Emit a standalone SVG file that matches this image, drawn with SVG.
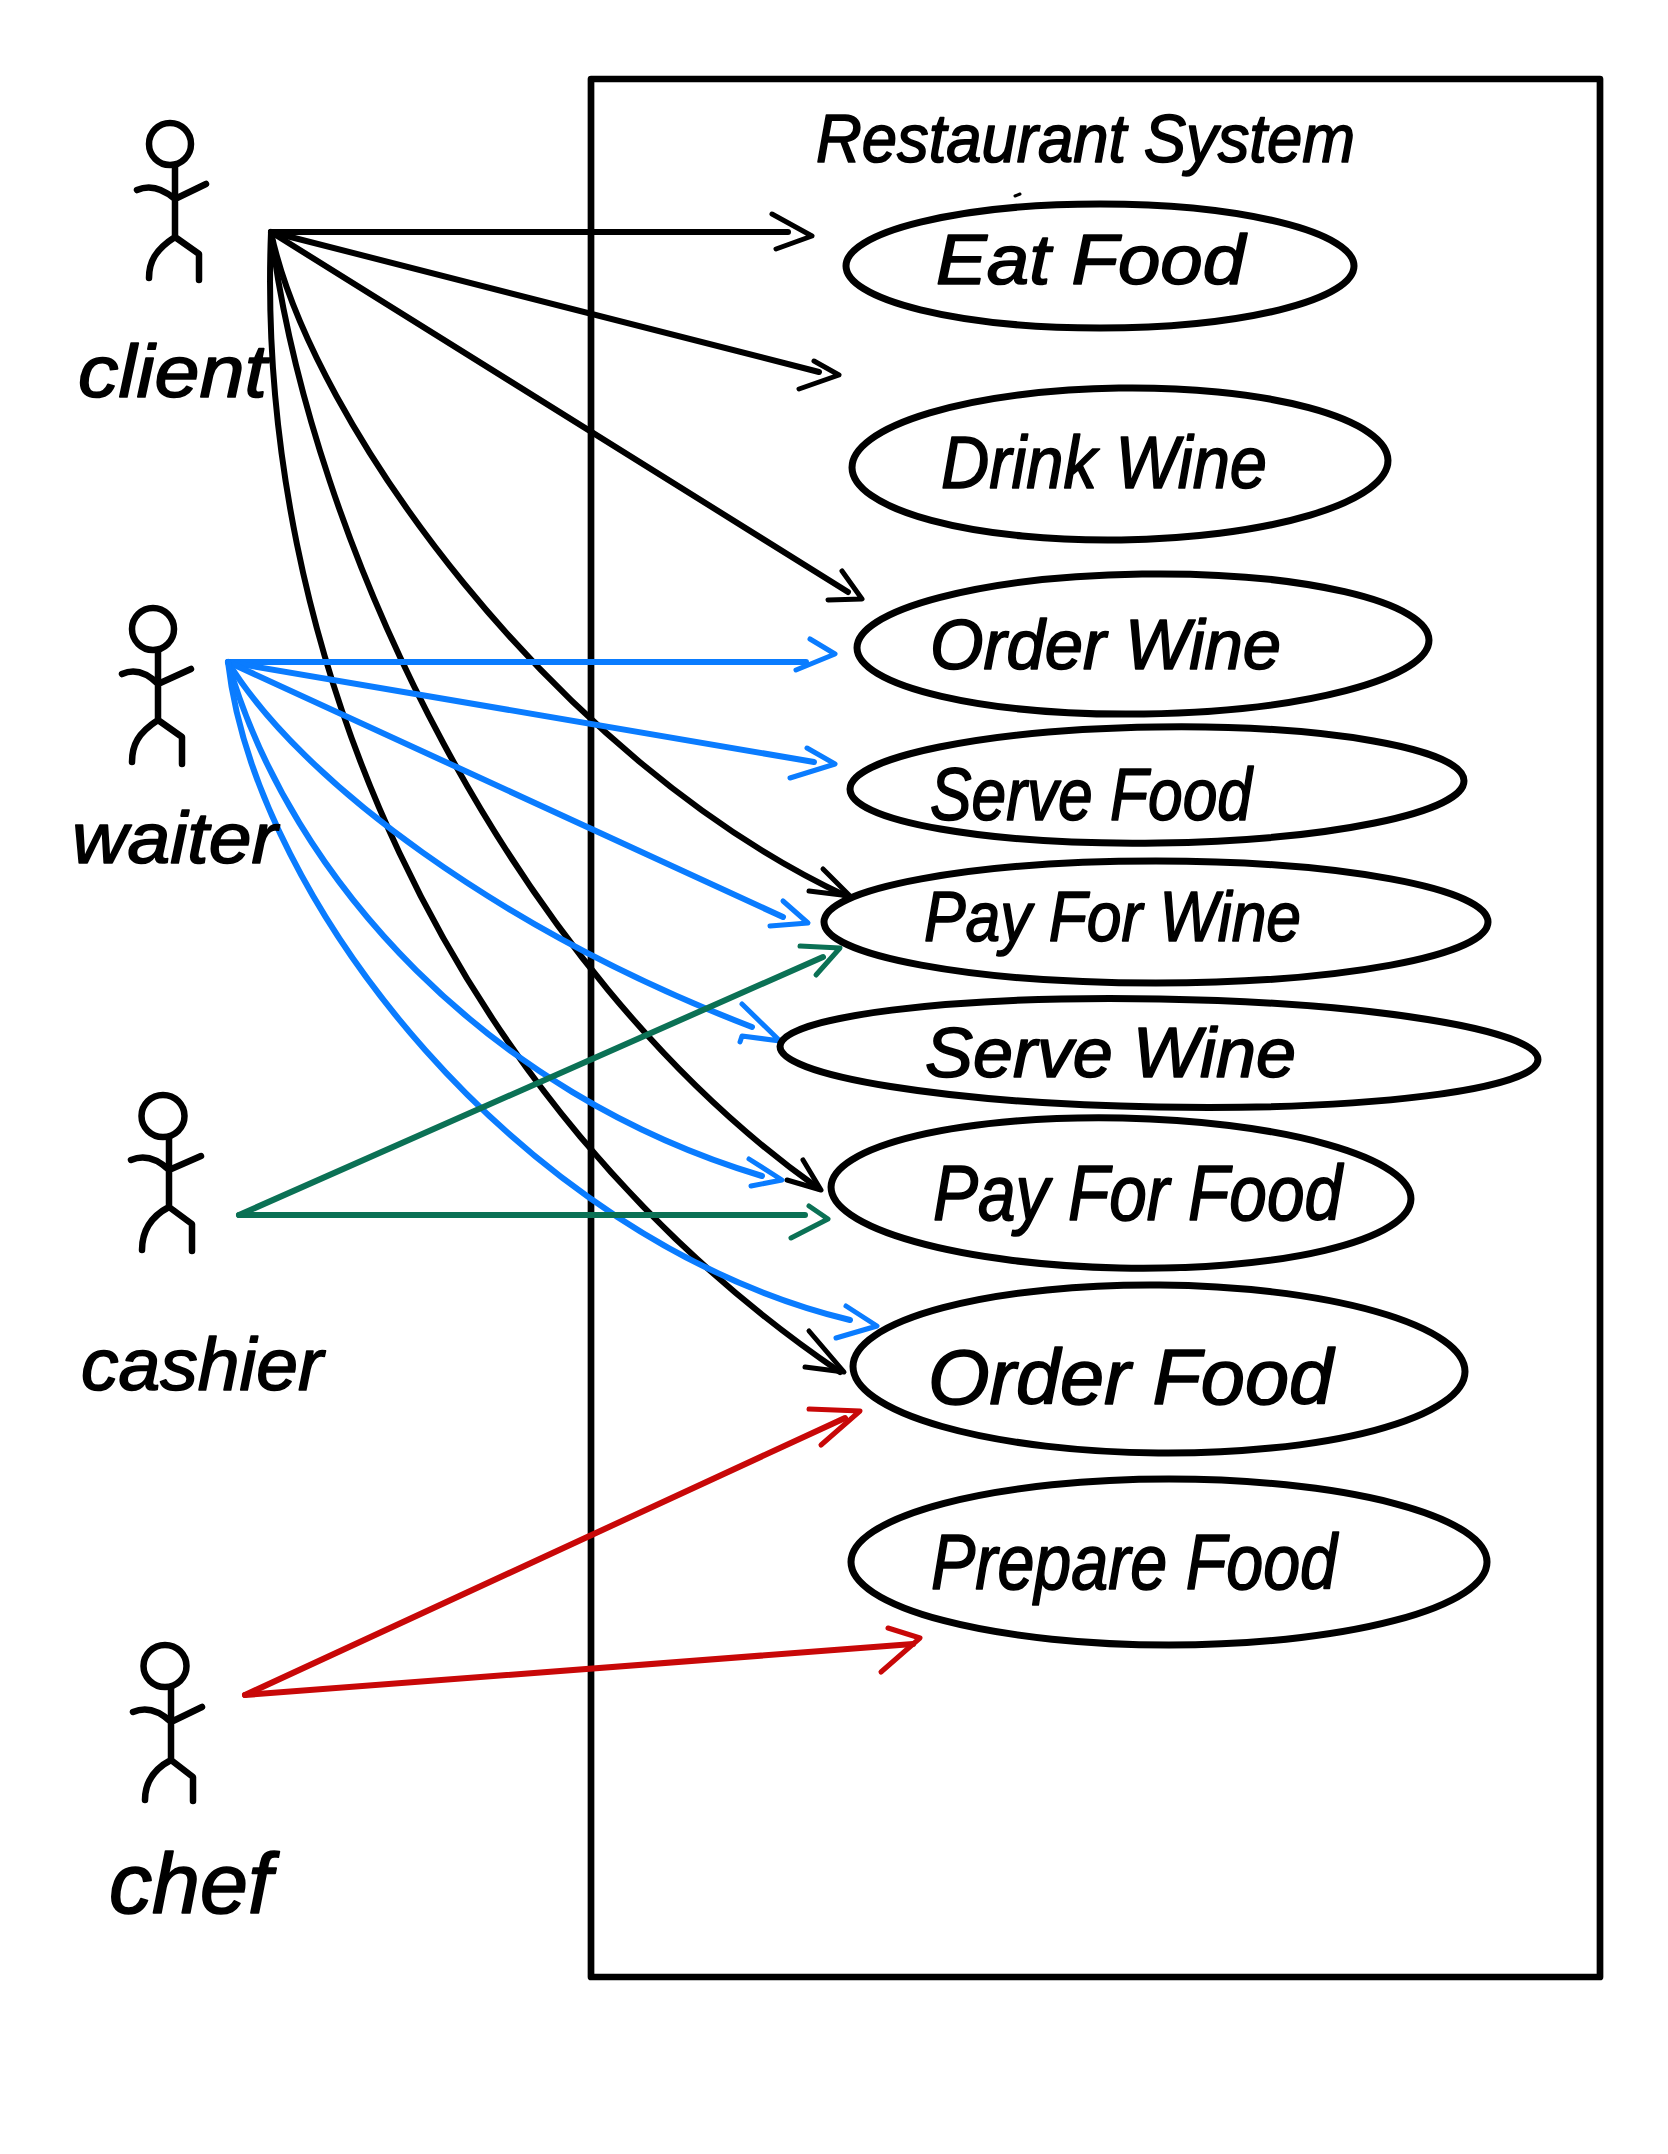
<svg xmlns="http://www.w3.org/2000/svg" width="1668" height="2154" viewBox="0 0 1668 2154">
<style>
.bg{fill:#fff}
.box{fill:none;stroke:#000;stroke-width:6.7;stroke-linejoin:round}
.uc{fill:none;stroke:#000;stroke-width:7}
.act{fill:none;stroke:#000;stroke-width:6.5;stroke-linecap:round;stroke-linejoin:round}
.tick{fill:none;stroke:#000;stroke-width:3;stroke-linecap:round}
.t{font-family:"Liberation Sans",Arial,sans-serif;font-style:italic;fill:#000;stroke:#000;stroke-width:1.6;stroke-linejoin:round}
.c{fill:none;stroke-linecap:round;stroke-linejoin:round;stroke-width:6}
.h{stroke-width:5}
.k{stroke:#000}.b{stroke:#0a7cff}.g{stroke:#0b7155}.r{stroke:#c80808}
</style>
<rect class="bg" width="1668" height="2154"/>
<g id="system">
<rect class="box" x="591" y="79" width="1009" height="1898"/>
<text class="t" x="816" y="162" font-size="68" textLength="539" lengthAdjust="spacingAndGlyphs">Restaurant System</text>
<path class="tick" d="M1015 196L1020 194"/>
</g>
<g id="connectors">
<g id="client-links">
<path class="c k" d="M271 232H788"/><path class="c k h" d="M772 214L812 236L776 249"/>
<path class="c k" d="M271 232L819 372"/><path class="c k h" d="M814 361L839 375L799 389"/>
<path class="c k" d="M271 232L848 592"/><path class="c k h" d="M842 571L862 599L828 600"/>
<path class="c k" d="M271 232C310 420 555 760 846 896"/><path class="c k h" d="M823 869L850 896L809 891"/>
<path class="c k" d="M271 232C310 540 510 970 818 1188"/><path class="c k h" d="M803 1160L821 1190L787 1180"/>
<path class="c k" d="M271 232C255 640 440 1100 840 1372"/><path class="c k h" d="M809 1331L844 1372L805 1367"/>
</g>
<g id="waiter-links">
<path class="c b" d="M228 662H806"/><path class="c b h" d="M810 639L835 654L796 670"/>
<path class="c b" d="M228 662L814 762"/><path class="c b h" d="M807 748L835 764L790 778"/>
<path class="c b" d="M228 662L783 917"/><path class="c b h" d="M783 901L808 923L770 926"/>
<path class="c b" d="M228 662C300 780 500 930 752 1027"/><path class="c b h" d="M742 1004L780 1041L742 1036L740 1042"/>
<path class="c b" d="M228 662C290 880 490 1095 762 1176"/><path class="c b h" d="M749 1159L782 1180L751 1186"/>
<path class="c b" d="M228 662C255 900 520 1240 850 1320"/><path class="c b h" d="M846 1306L877 1326L836 1338"/>
</g>
<g id="cashier-links">
<path class="c g" d="M239 1215H805"/><path class="c g h" d="M809 1206L828 1219L791 1238"/>
<path class="c g" d="M239 1215L823 957"/><path class="c g h" d="M800 946L840 948L816 975"/>
</g>
<g id="chef-links">
<path class="c r" d="M245 1695L845 1418"/><path class="c r h" d="M809 1409L860 1411L821 1445"/>
<path class="c r" d="M245 1695L913 1644"/><path class="c r h" d="M888 1628L920 1638L881 1672"/>
</g>
</g>
<g id="actor-client">
<ellipse class="act" cx="170" cy="144" rx="21" ry="21"/>
<path class="act" d="M175 166V237M137 190Q155 182 175 199L206 184M175 237C155 250 149 262 149 278M175 237L199 254V280"/>
<text class="t" x="78" y="397" font-size="75" textLength="189" lengthAdjust="spacingAndGlyphs">client</text>
</g>
<g id="actor-waiter">
<ellipse class="act" cx="153" cy="629" rx="21" ry="21"/>
<path class="act" d="M158 651V720M122 674Q140 666 158 684L191 669M158 720C138 733 132 745 132 762M158 720L182 737V764"/>
<text class="t" x="72" y="863" font-size="72" textLength="205" lengthAdjust="spacingAndGlyphs">waiter</text>
</g>
<g id="actor-cashier">
<ellipse class="act" cx="163" cy="1116" rx="21.5" ry="21"/>
<path class="act" d="M169 1138V1207M131 1160Q150 1152 169 1170L201 1156M169 1207C150 1217 142 1232 142 1250M169 1207L192 1224V1251"/>
<text class="t" x="81" y="1390" font-size="75" textLength="242" lengthAdjust="spacingAndGlyphs">cashier</text>
</g>
<g id="actor-chef">
<ellipse class="act" cx="165" cy="1666" rx="21.5" ry="21"/>
<path class="act" d="M171 1688V1760M133 1712Q152 1704 171 1722L202 1707M171 1760C152 1770 145 1785 145 1800M171 1760L193 1777V1801"/>
<text class="t" x="109" y="1913" font-size="85" textLength="163" lengthAdjust="spacingAndGlyphs">chef</text>
</g>
<g id="uc-eat-food"><ellipse class="uc" cx="1100" cy="266" rx="254" ry="62"/><text class="t" x="936" y="284" font-size="70" textLength="309" lengthAdjust="spacingAndGlyphs">Eat Food</text></g>
<g id="uc-drink-wine"><ellipse class="uc" cx="1120" cy="464" rx="268" ry="76" transform="rotate(-0.8 1120 464)"/><text class="t" x="941" y="488" font-size="75" textLength="326" lengthAdjust="spacingAndGlyphs">Drink Wine</text></g>
<g id="uc-order-wine"><ellipse class="uc" cx="1143" cy="644" rx="286" ry="70" transform="rotate(-0.8 1143 644)"/><text class="t" x="930" y="669" font-size="70" textLength="351" lengthAdjust="spacingAndGlyphs">Order Wine</text></g>
<g id="uc-serve-food"><ellipse class="uc" cx="1157" cy="785" rx="307" ry="58" transform="rotate(-0.8 1157 785)"/><text class="t" x="930" y="820" font-size="75" textLength="322" lengthAdjust="spacingAndGlyphs">Serve Food</text></g>
<g id="uc-pay-for-wine"><ellipse class="uc" cx="1156" cy="922" rx="332" ry="61"/><text class="t" x="924" y="941" font-size="70" textLength="377" lengthAdjust="spacingAndGlyphs">Pay For Wine</text></g>
<g id="uc-serve-wine"><ellipse class="uc" cx="1159" cy="1053" rx="379" ry="54" transform="rotate(1 1159 1053)"/><text class="t" x="925" y="1077" font-size="70" textLength="371" lengthAdjust="spacingAndGlyphs">Serve Wine</text></g>
<g id="uc-pay-for-food"><ellipse class="uc" cx="1121" cy="1193" rx="290" ry="75" transform="rotate(1.2 1121 1193)"/><text class="t" x="933" y="1220" font-size="78" textLength="409" lengthAdjust="spacingAndGlyphs">Pay For Food</text></g>
<g id="uc-order-food"><ellipse class="uc" cx="1159" cy="1369" rx="306" ry="84" transform="rotate(0.5 1159 1369)"/><text class="t" x="928" y="1404" font-size="78" textLength="405" lengthAdjust="spacingAndGlyphs">Order Food</text></g>
<g id="uc-prepare-food"><ellipse class="uc" cx="1169" cy="1562" rx="318" ry="83"/><text class="t" x="931" y="1589" font-size="78" textLength="406" lengthAdjust="spacingAndGlyphs">Prepare Food</text></g>
</svg>
